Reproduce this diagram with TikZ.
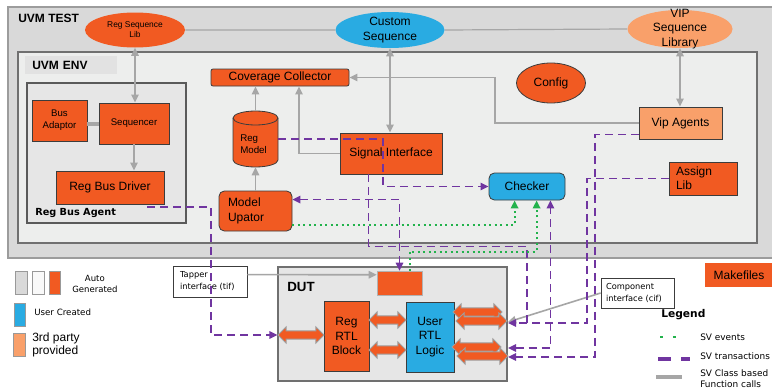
\documentclass[tikz,border=0pt]{standalone}
\usepackage{fontspec}
\setmainfont{Liberation Sans}
\newfontfamily\vfont{DejaVu Sans}
\usetikzlibrary{positioning,calc,arrows.meta,shapes.geometric,shapes.arrows}

\definecolor{uvmorange}{HTML}{F15A22}
\definecolor{uvmblue}{HTML}{29ABE2}
\definecolor{viporange}{HTML}{F9A06A}
\definecolor{testgray}{HTML}{D9D9D9}
\definecolor{testedge}{HTML}{9C9C9C}
\definecolor{envgray}{HTML}{EDEEED}
\definecolor{envedge}{HTML}{707070}
\definecolor{labelgray}{HTML}{E2E2E2}
\definecolor{agentgray}{HTML}{E6E6E6}
\definecolor{agentedge}{HTML}{5A5A5A}
\definecolor{edgedark}{HTML}{3C3C3C}
\definecolor{txpurple}{HTML}{7035A0}
\definecolor{evgreen}{HTML}{22B24C}
\definecolor{callgray}{HTML}{A6A6A6}

\begin{document}
\begin{tikzpicture}[x=0.75pt,y=-0.75pt,>={Triangle[length=6pt,width=5.5pt]},
    sz/.style 2 args={minimum width=#1*0.75pt,minimum height=#2*0.75pt},
    main box/.style={draw=edgedark,line width=0.6pt,fill=uvmorange,inner sep=0pt,align=center,font=\fontsize{9}{10.75}\selectfont},
    small box/.style={main box,font=\fontsize{7.2}{9}\selectfont},
    user box/.style={main box,fill=uvmblue},
    vip box/.style={main box,fill=viporange},
    lib ellipse/.style={ellipse,fill=#1,inner sep=0pt,align=center,font=\fontsize{9}{10.75}\selectfont},
    note box/.style={draw=edgedark,line width=0.5pt,fill=white,inner sep=0pt,align=left,font=\vfont\fontsize{6.2}{9}\selectfont},
    key box/.style={draw=gray!80,line width=0.6pt,fill=#1},
    bus arrow/.style={double arrow,fill=uvmorange,draw=gray!75,line width=0.6pt,inner xsep=0pt,inner ysep=2.8pt,
        double arrow head extend=3pt,minimum height=#1*0.75pt},
    call/.style={draw=callgray,line width=1.2pt,->},
    trans/.style={draw=txpurple,line width=1.3pt,dash pattern=on 6pt off 3.75pt,->},
    event/.style={draw=evgreen,line width=1.5pt,dash pattern=on 1.5pt off 2.6pt,->},
    legend text/.style={anchor=west,inner sep=0pt,align=left,font=\vfont\fontsize{6.7}{8.25}\selectfont}]

    \path[use as bounding box,fill=white] (0,0) rectangle (772,389);

    % Frames
    \node[draw=testedge,line width=0.9pt,fill=testgray,sz={765}{251}] (uvmtest) at (390.5,132.5) {};
    \node[anchor=west,inner sep=0pt,font=\bfseries\fontsize{9}{11}\selectfont] (testlabel) at (18,18) {UVM TEST};
    \node[draw=envedge,line width=0.9pt,fill=envgray,sz={739}{191}] (uvmenv) at (387.5,147.5) {};
    \node[fill=labelgray,sz={92}{18},anchor=north west,inner xsep=5.25pt,inner ysep=0pt,text width=58.5pt,
        align=left,font=\bfseries\fontsize{9}{11}\selectfont] (envlabel) at (25,56) {UVM ENV};
    \node[draw=agentedge,line width=0.8pt,fill=agentgray,sz={159}{140}] (agent) at (106.5,153) {};
    \node[anchor=west,inner sep=0pt,font=\vfont\bfseries\fontsize{7.3}{9}\selectfont] (agentlabel) at (35,213) {Reg Bus Agent};

    % Define vertices
    \node[small box,sz={55}{41}] (adaptor) at (59.5,120.5) {Bus\\Adaptor};
    \node[small box,sz={70}{41}] (sequencer) at (134,123.5) {Sequencer};
    \node[main box,sz={108}{33}] (driver) at (110,187.5) {Reg Bus Driver};
    \node[main box,rounded corners=1.5pt,sz={138}{17}] (coverage) at (280,77.5) {Coverage Collector};

    \filldraw[fill=uvmorange,draw=edgedark,line width=0.6pt] (233,118) -- (233,160)
        arc[start angle=180,end angle=360,x radius=16.875pt,y radius=5.25pt] -- (278,118)
        arc[start angle=0,end angle=180,x radius=16.875pt,y radius=5.25pt] -- cycle;
    \draw[edgedark,line width=0.6pt] (233,118) arc[start angle=180,end angle=360,x radius=16.875pt,y radius=5.25pt];
    \node[inner sep=0pt,sz={45}{56}] (regmodel) at (255.5,139) {};
    \node[anchor=west,inner sep=0pt,align=left,font=\fontsize{7.3}{9}\selectfont] (regmodeltxt) at (240,144) {Reg\\Model};

    \node[main box,sz={102}{41}] (sigif) at (391,153.5) {Signal Interface};
    \node[main box,rounded corners=4pt,sz={73}{40},align=left,inner xsep=6.75pt,text width=41.25pt] (upator) at (255.5,211) {Model\\Upator};
    \node[lib ellipse=uvmorange,draw=edgedark,line width=0.6pt,sz={69}{40}] (config) at (551,83) {Config};
    \node[vip box,sz={83}{32}] (vipag) at (680.5,123) {Vip Agents};
    \node[main box,sz={68}{33},align=left,inner xsep=5.25pt,text width=40.5pt] (assign) at (703,178.5) {Assign\\Lib};
    \node[user box,rounded corners=4pt,sz={76}{27}] (checker) at (527,186.5) {Checker};

    \node[lib ellipse=uvmorange,sz={100}{35},font=\fontsize{6.3}{7.5}\selectfont] (regseq) at (135,30) {Reg Sequence\\Lib};
    \node[lib ellipse=uvmblue,sz={109}{36}] (custom) at (390,30) {Custom\\Sequence};
    \node[lib ellipse=viporange,sz={105}{38}] (vipseq) at (680,29) {};
    \node[inner sep=0pt,align=center,font=\fontsize{9}{10.9}\selectfont] (vipseqtxt) at (vipseq.center) {VIP\\Sequence\\Library};

    \node[main box,draw=none,sz={68}{24}] (makefiles) at (739,275) {Makefiles};

    % DUT
    \node[draw=envedge,line width=0.8pt,fill=agentgray,sz={229}{114}] (dut) at (392.5,324) {};
    \node[anchor=west,inner sep=0pt,font=\bfseries\fontsize{10}{12}\selectfont] (dutlabel) at (287,287) {DUT};
    \node[fill=uvmorange,draw=gray!60,line width=0.4pt,inner sep=0pt,sz={45}{24}] (tapbox) at (399.5,283) {};
    \node[main box,sz={45}{70}] (regrtl) at (346.5,336) {Reg\\RTL\\Block};
    \node[user box,sz={48}{70}] (userrtl) at (430,337) {User\\RTL\\Logic};
    \node[bus arrow=46] (hostbus) at (301,335) {};
    \node[bus arrow=37] (regbus1) at (387.5,320) {};
    \node[bus arrow=37] (regbus2) at (387.5,350) {};
    \node[bus arrow=49] (outbus1) at (477.5,312) {};
    \node[bus arrow=51] (outbus2) at (481.5,321) {};
    \node[bus arrow=49] (outbus3) at (476.5,347) {};
    \node[bus arrow=51] (outbus4) at (482.5,356) {};

    \node[note box,sz={74}{31},inner xsep=5.25pt,text width=45pt] (tif) at (210,281.5) {Tapper\\interface (tif)};
    \node[note box,sz={73}{30},inner xsep=3.75pt,text width=47.25pt] (cif) at (637.5,293) {Component\\interface (cif)};

    % Legend
    \node[key box=testgray,sz={12}{23}] (keytest) at (21,282.5) {};
    \node[key box=white!95!gray,sz={12}{23}] (keyenv) at (38,282.5) {};
    \node[key box=uvmorange,sz={11}{23}] (keyauto) at (54.5,282.5) {};
    \node[legend text,align=center,font=\vfont\fontsize{6.4}{8.25}\selectfont] (autotext) at (72,283.5) {Auto\\Generated};
    \node[key box=uvmblue,sz={11}{23}] (keyuser) at (19.5,314.5) {};
    \node[legend text,font=\vfont\fontsize{6.5}{8}\selectfont] (usertext) at (34,312) {User Created};
    \node[key box=viporange,sz={12}{23}] (keyvip) at (19,344.5) {};
    \node[legend text,font=\fontsize{9}{9.75}\selectfont] (viptext) at (32,344.5) {3rd party\\provided};

    \node[legend text,font=\vfont\bfseries\fontsize{8}{10}\selectfont] (legendtitle) at (661,315) {Legend};
    \draw[evgreen,line width=2.2pt,dash pattern=on 2.2pt off 7.5pt] (660,337) -- (677,337);
    \node[legend text] (eventtext) at (700,337) {SV events};
    \draw[txpurple,line width=3pt,dash pattern=on 9.75pt off 7.5pt] (658,359) -- (690,359);
    \node[legend text] (transtext) at (700,356) {SV transactions};
    \draw[callgray,line width=3pt] (656,377) -- (682,377);
    \node[legend text] (calltext) at (700,378.5) {SV Class based\\Function calls};

    % Draw edges
    \coordinate (covbend) at (495,77.5);
    \coordinate (cifend) at (508,322);
    \coordinate (drvout) at (147,207);
    \coordinate (rtlout1) at (508,323);
    \coordinate (rtlout2) at (508,348);
    \coordinate (rtlout3) at (508,357);

    \draw[callgray,line width=0.9pt] (regseq.east) -- (custom.west) (custom.east) -- (vipseq.west);
    \draw[call,<->] (regseq.south) -- (regseq.south |- sequencer.north);
    \draw[call,<->] (custom.south) -- (custom.south |- sigif.north);
    \draw[call,<->] (vipseq.south) -- (vipseq.south |- vipag.north);
    \draw[callgray,line width=3pt] (sequencer.west) -- (sequencer.west -| adaptor.east);
    \draw[call] (sequencer.south) -- (sequencer.south |- driver.north);
    \draw[call] (regmodel.north) -- (regmodel.north |- coverage.south);
    \draw[call] (upator.north) -- (regmodel.south);
    \draw[call] (sigif.west) -| ($(coverage.south)+(19,0)$);
    \draw[call] (vipag.west) -| (covbend) -- (coverage.east);
    \draw[call] ($(tif.north east)+(0,9)$) -- ($(tapbox.north west)+(0,4)$);
    \draw[call] (cif.west) -- (cifend);

    \draw[trans] (drvout) -- ++(64,0) |- (hostbus.west);
    \draw[trans] (regmodel.east) -- ++(105,0) |- (checker.west);
    \draw[trans,<->] ($(upator.north east)+(0,9)$) -| (tapbox.north);
    \draw[trans,-] ($(sigif.south west)+(29,0)$) -- ++(0,72) -| ($(rtlout1)+(19,0)$);
    \draw[trans] (assign.west) -| ($(rtlout1)+(79,0)$) -- (rtlout1);
    \draw[trans,<->] (rtlout2) -| ($(checker.south east)+(-15,0)$);
    \draw[trans] ($(vipag.south west)+(0,-5)$) -| ($(rtlout3)+(87,0)$) -- (rtlout3);

    \draw[event] ($(upator.south east)+(0,-6)$) -| ($(checker.south west)+(26,0)$);
    \draw[event] ($(tapbox.north)+(10,0)$) -- ++(0,-19) -| ($(checker.south west)+(48,0)$);

\end{tikzpicture}
\end{document}
